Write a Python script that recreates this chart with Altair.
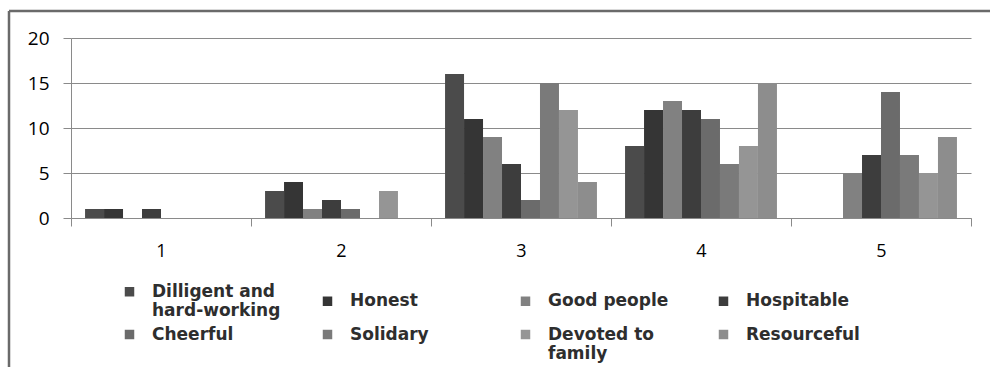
import altair as alt
import pandas as pd

groups = ["1", "2", "3", "4", "5"]
series = [
    "Dilligent and hard-working",
    "Honest",
    "Good people",
    "Hospitable",
    "Cheerful",
    "Solidary",
    "Devoted to family",
    "Resourceful",
]
values = {
    "Dilligent and hard-working": [1, 3, 16, 8, 0],
    "Honest": [1, 4, 11, 12, 0],
    "Good people": [0, 1, 9, 13, 5],
    "Hospitable": [1, 2, 6, 12, 7],
    "Cheerful": [0, 1, 2, 11, 14],
    "Solidary": [0, 0, 15, 6, 7],
    "Devoted to family": [0, 3, 12, 8, 5],
    "Resourceful": [0, 0, 4, 15, 9],
}
colors = ["#4b4b4b", "#353535", "#818181", "#3d3d3d",
          "#6b6b6b", "#7a7a7a", "#959595", "#8d8d8d"]

rows = []
for s in series:
    for g, v in zip(groups, values[s]):
        rows.append({"group": g, "series": s, "value": v})
df = pd.DataFrame(rows)

W, H = 900, 180
PAD_L, PAD_T = 71, 38

# two legend labels wrap onto a second line
label_expr = (
    "datum.label == 'Dilligent and hard-working' ? ['Dilligent and', 'hard-working'] : "
    "datum.label == 'Devoted to family' ? ['Devoted to', 'family'] : datum.label"
)

bars = alt.Chart(df).mark_bar().encode(
    x=alt.X(
        "group:N",
        sort=groups,
        title=None,
        scale=alt.Scale(paddingInner=0, paddingOuter=0),
        axis=alt.Axis(
            labelAngle=0,
            labelFont="Open Sans",
            labelFontSize=18,
            labelColor="#000000",
            labelPadding=16,
            tickBand="extent",
            tickSize=8,
            tickColor="#8a8a8a",
            domainColor="#8a8a8a",
            grid=False,
        ),
    ),
    xOffset=alt.XOffset(
        "series:N",
        sort=series,
        scale=alt.Scale(paddingInner=0, paddingOuter=0.74),
    ),
    y=alt.Y(
        "value:Q",
        title=None,
        scale=alt.Scale(domain=[0, 20], nice=False),
        axis=alt.Axis(
            values=[0, 5, 10, 15, 20],
            labelFont="Open Sans",
            labelFontSize=19,
            labelColor="#000000",
            labelPadding=14,
            tickSize=8,
            tickColor="#8a8a8a",
            domainColor="#8a8a8a",
            gridColor="#8a8a8a",
            gridWidth=1.2,
        ),
    ),
    color=alt.Color(
        "series:N",
        sort=series,
        title=None,
        scale=alt.Scale(domain=series, range=colors),
        legend=alt.Legend(
            orient="none",
            legendX=50,
            legendY=245,
            columns=4,
            direction="horizontal",
            symbolType="square",
            symbolSize=90,
            symbolStrokeWidth=0,
            labelFont="DejaVu Sans",
            labelFontSize=17,
            labelFontWeight="bold",
            labelColor="#2e2e2e",
            labelOffset=14,
            labelLimit=300,
            labelExpr=label_expr,
            columnPadding=38,
            rowPadding=6,
            gridAlign="all",
            padding=0,
        ),
    ),
)

frame = alt.Data(values=[{"k": 0}])
left_line = alt.Chart(frame).mark_rule(color="#6a6a6a", strokeWidth=2.5).encode(
    x=alt.value(9 - PAD_L),
    y=alt.value(11 - PAD_T),
    y2=alt.value(367 - PAD_T),
)
top_line = alt.Chart(frame).mark_rule(color="#6a6a6a", strokeWidth=2.5).encode(
    x=alt.value(9 - PAD_L),
    x2=alt.value(990 - PAD_L),
    y=alt.value(11 - PAD_T),
)

chart = alt.layer(bars, left_line, top_line).properties(
    width=W,
    height=H,
    autosize=alt.AutoSizeParams(type="none"),
    padding={"left": PAD_L, "top": PAD_T, "right": 990 - PAD_L - W, "bottom": 367 - PAD_T - H},
    background="#ffffff",
).configure_view(stroke=None)

chart.save("out.html", embed_options={"renderer": "svg", "actions": False})
